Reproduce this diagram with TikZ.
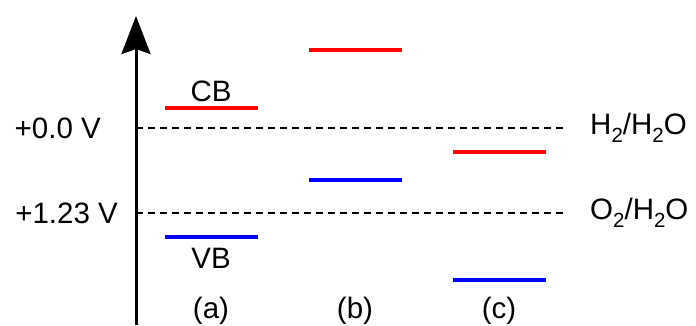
\documentclass[tikz,border=0pt]{standalone}
\usepackage{fontspec}
\setmainfont{Liberation Sans}
\usetikzlibrary{arrows.meta}
\newcommand{\sbs}[1]{\raisebox{-0.28em}{\fontsize{20.5}{20.5}\selectfont #1}}
\begin{document}
\begin{tikzpicture}[x=1pt,y=-1pt,
  lbl/.style={font=\fontsize{29.5}{32}\selectfont, inner sep=0pt},
  cband/.style={draw=red, line width=3.5pt},
  vband/.style={draw=blue, line width=3.5pt},
  refline/.style={draw=black, line width=2.3pt, dash pattern=on 7pt off 5pt},
  axisline/.style={draw=black, line width=3pt, -{Stealth[length=38pt,width=29pt,inset=5pt]}}]
\useasboundingbox (0,0) rectangle (696,325);

% energy axis
\coordinate (axbot) at (136,325);
\coordinate (axtop) at (136,16);
\draw[axisline] (axbot) -- (axtop);

% redox reference levels
\coordinate (h0) at (136,128);
\coordinate (h1) at (566,128);
\coordinate (o0) at (136,213);
\coordinate (o1) at (566,213);
\draw[refline] (h0) -- (h1);
\draw[refline] (o0) -- (o1);
\node[lbl, anchor=east] (vh) at (101,128) {+0.0 V};
\node[lbl, anchor=east] (vo) at (118,213) {+1.23 V};
\node[lbl, anchor=west] (hh) at (590,128) {H\sbs{2}/H\sbs{2}O};
\node[lbl, anchor=west] (oh) at (590,213) {O\sbs{2}/H\sbs{2}O};

% case (a)
\coordinate (ca0) at (165,108); \coordinate (ca1) at (258,108);
\coordinate (va0) at (165,237); \coordinate (va1) at (258,237);
\draw[cband] (ca0) -- (ca1);
\draw[vband] (va0) -- (va1);
\node[lbl] (cb) at (211,91) {CB};
\node[lbl] (vb) at (211,258) {VB};
\node[lbl] (la) at (211,311) {(a)};

% case (b)
\coordinate (cb0) at (309,50); \coordinate (cb1) at (402,50);
\coordinate (vb0) at (309,180); \coordinate (vb1) at (402,180);
\draw[cband] (cb0) -- (cb1);
\draw[vband] (vb0) -- (vb1);
\node[lbl] (lb) at (355,311) {(b)};

% case (c)
\coordinate (cc0) at (453,152); \coordinate (cc1) at (546,152);
\coordinate (vc0) at (453,280); \coordinate (vc1) at (546,280);
\draw[cband] (cc0) -- (cc1);
\draw[vband] (vc0) -- (vc1);
\node[lbl] (lc) at (499,311) {(c)};
\end{tikzpicture}
\end{document}
